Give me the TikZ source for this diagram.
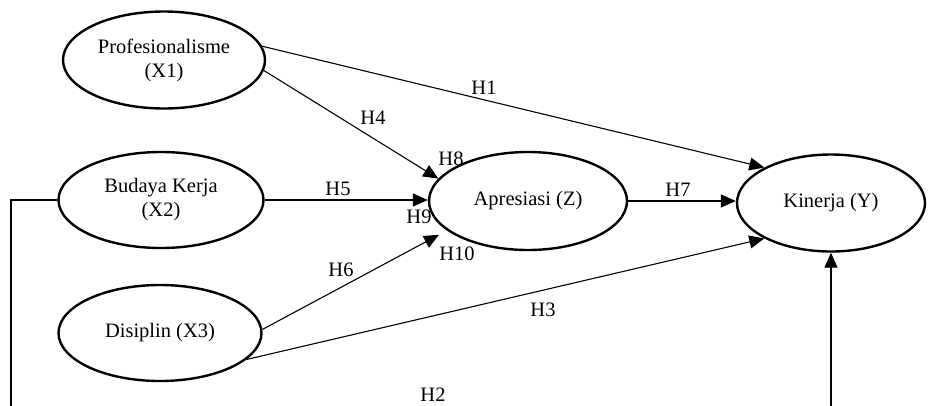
\documentclass[tikz,border=0pt]{standalone}
\usepackage{fontspec}
\setmainfont{Liberation Serif}
\usetikzlibrary{shapes.geometric,arrows.meta}
\begin{document}
\begin{tikzpicture}[x=1pt,y=-1pt,
 var/.style={ellipse,draw,line width=2.4pt,inner sep=0pt,align=center,font=\fontsize{20.5}{24}\selectfont},
 conn/.style={line width=1.1pt,-{Triangle[length=15pt,width=13pt]}},
 plain/.style={line width=1.1pt},
 lbl/.style={font=\fontsize{20.5}{24}\selectfont,inner sep=0pt}]
\useasboundingbox (0,0) rectangle (939,405);
\clip (0,0) rectangle (939,405);
\node[var,minimum width=202pt,minimum height=97pt] (prof) at (164,60) {Profesionalisme\\(X1)};
\node[var,minimum width=205pt,minimum height=96pt] (bud) at (161,200) {Budaya Kerja\\(X2)};
\node[var,minimum width=203pt,minimum height=96pt] (dis) at (160,333) {Disiplin (X3)};
\node[var,minimum width=198pt,minimum height=98pt] (apr) at (528,201) {Apresiasi (Z)};
\node[var,minimum width=188pt,minimum height=97pt] (kin) at (831,203) {Kinerja (Y)};
% connectors
\draw[conn] (prof.8) -- (kin.152);
\draw[conn] (prof.-6) -- (apr.166);
\draw[conn] (bud.east) -- (bud.east -| apr.west);
\draw[conn,shorten >=9pt] (dis.2) -- (apr.-160);
\draw[conn] (dis.-17) -- (kin.-152);
\draw[conn] (apr.east) -- (apr.east -| kin.west);
\coordinate (h2l) at (11,425);
\draw[plain] (bud.west) -| (h2l);
\draw[conn] (h2l) -| (kin.south);
% labels
\node[lbl] (l1) at (484,88) {H1};
\node[lbl] (l4) at (373,118) {H4};
\node[lbl] (l5) at (338,189) {H5};
\node[lbl] (l6) at (341,270) {H6};
\node[lbl] (l8) at (451,159) {H8};
\node[lbl] (l9) at (419,217) {H9};
\node[lbl] (l10) at (457,254) {H10};
\node[lbl] (l7) at (678,190) {H7};
\node[lbl] (l3) at (543,310) {H3};
\node[lbl] (l2) at (433,395) {H2};
\end{tikzpicture}
\end{document}
